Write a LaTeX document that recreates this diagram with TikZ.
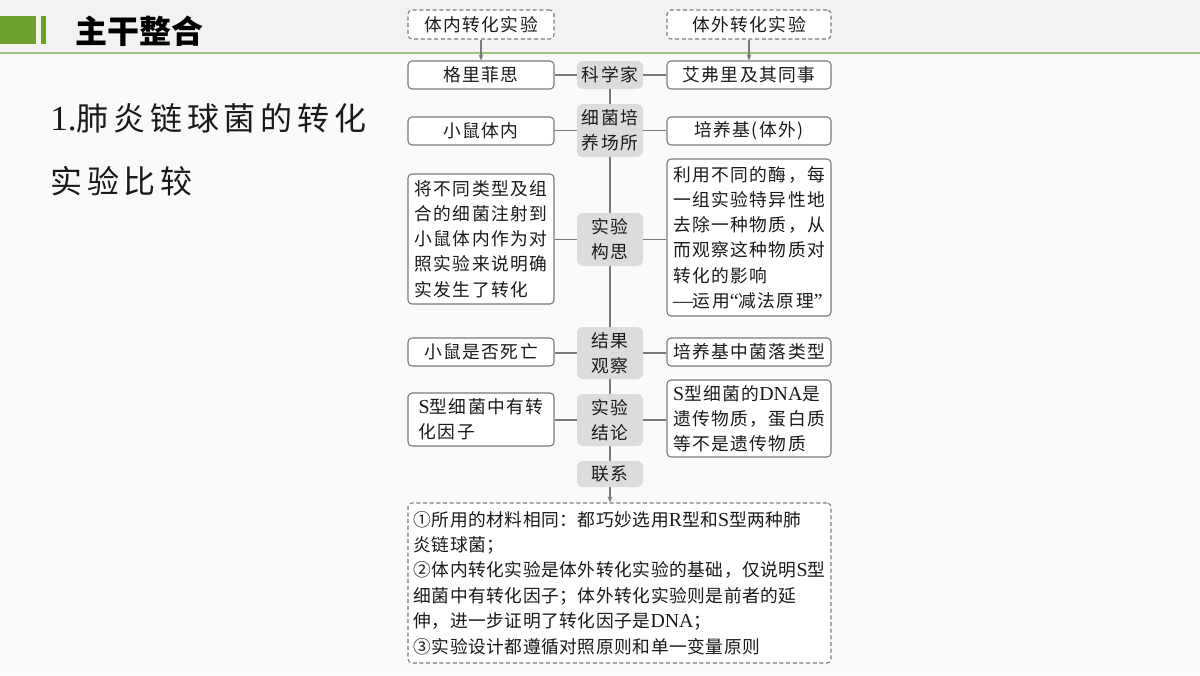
\documentclass[tikz,border=0pt]{standalone}
\usepackage{fontspec}
\usetikzlibrary{arrows.meta}
\setmainfont{Noto Sans CJK SC}
\newfontfamily\boxfont[LetterSpace=8]{Noto Sans CJK SC}
\newfontfamily\botfont[LetterSpace=3]{Noto Sans CJK SC}
\newfontfamily\latfont[Scale=1.12]{Liberation Serif}
\newfontfamily\bigfont[LetterSpace=15]{Noto Sans CJK SC}
\newfontfamily\bigser[Scale=1.1]{Liberation Serif}
\newcommand\lat[1]{{\latfont #1}}
\definecolor{hdrbg}{HTML}{F2F2F2}
\definecolor{bodybg}{HTML}{FAFAFA}
\definecolor{grn}{HTML}{6FA02E}
\definecolor{grnline}{HTML}{9DC27A}
\definecolor{edgec}{HTML}{7A7A7A}
\definecolor{cfill}{HTML}{DCDCDC}
\definecolor{ink}{HTML}{1A1A1A}
\tikzset{
  wh/.style 2 args={minimum width=#1*0.75pt, minimum height=#2*0.75pt},
  txt/.style={text=ink, font=\boxfont\fontsize{13.3}{18.9}\selectfont, inner xsep=1.5pt, inner ysep=2pt, align=left},
  box/.style={txt, draw=edgec, line width=0.8pt, rounded corners=3pt, fill=white},
  dbox/.style={box, dash pattern=on 3pt off 2pt},
  cbox/.style={txt, align=center, fill=cfill, rounded corners=4pt},
  conn/.style={draw=edgec, line width=0.8pt},
  arr/.style={conn, -{Stealth[length=4.5pt,width=3.5pt]}}
}
\begin{document}
\begin{tikzpicture}[x=0.75pt,y=-0.75pt]
\useasboundingbox (0,0) rectangle (1200,675);
\fill[bodybg] (0,0) rectangle (1200,675);
\fill[hdrbg] (0,0) rectangle (1200,53);
\draw[grnline, line width=1.2pt] (0,53) -- (1200,53);
\fill[grn] (0,16) rectangle (36,44);
\fill[grn] (41,16) rectangle (46,44);
\node[anchor=west, inner sep=0, text=black, font=\bfseries\fontsize{24}{24}\selectfont] (title) at (75,31.5) {主干整合};

\node[anchor=west, inner sep=0, text=ink, font=\bigfont\fontsize{24}{24}\selectfont] (h1) at (50,118.5) {{\bigser 1.}肺炎链球菌的转化};
\node[anchor=west, inner sep=0, text=ink, font=\bigfont\fontsize{24}{24}\selectfont] (h2) at (50,181) {实验比较};

% top dashed boxes
\node[dbox, wh={146}{29}, align=center] (tl) at (481,24.5) {体内转化实验};
\node[dbox, wh={164}{29}, align=center] (tr) at (749,24.5) {体外转化实验};

% left column
\node[box, wh={146}{28}, align=center] (L1) at (481,75) {格里菲思};
\node[box, wh={146}{28}, align=center] (L2) at (481,131) {小鼠体内};
\node[box, wh={146}{130}] (L3) at (481,239) {将不同类型及组\\合的细菌注射到\\小鼠体内作为对\\照实验来说明确\\实发生了转化};
\node[box, wh={146}{28}, align=center] (L4) at (481,352) {小鼠是否死亡};
\node[box, wh={146}{53}] (L5) at (481,419.5) {\lat{S}型细菌中有转\\化因子};

% right column
\node[box, wh={164}{28}, align=center] (R1) at (749,75) {艾弗里及其同事};
\node[box, wh={164}{28}, align=center] (R2) at (749,131) {培养基(体外)};
\node[box, wh={164}{157}] (R3) at (749,237.5) {利用不同的酶，每\\一组实验特异性地\\去除一种物质，从\\而观察这种物质对\\转化的影响\\\lat{—}运用\lat{“}减法原理\lat{”}};
\node[box, wh={164}{28}, align=center] (R4) at (749,352) {培养基中菌落类型};
\node[box, wh={164}{77}] (R5) at (749,418.5) {\lat{S}型细菌的\lat{DNA}是\\遗传物质，蛋白质\\等不是遗传物质};

% center column
\node[cbox, wh={66}{28}] (C1) at (610,75) {科学家};
\node[cbox, wh={66}{53}] (C2) at (610,130.5) {细菌培\\养场所};
\node[cbox, wh={66}{53}] (C3) at (610,239.5) {实验\\构思};
\node[cbox, wh={66}{52}] (C4) at (610,353) {结果\\观察};
\node[cbox, wh={66}{52}] (C5) at (610,420) {实验\\结论};
\node[cbox, wh={66}{26}] (C6) at (610,474) {联系};

% bottom box
\node[dbox, wh={423}{160}, font=\botfont\fontsize{13.3}{19.1}\selectfont] (bot) at (619.5,583) {①所用的材料相同：都巧妙选用\lat{R}型和\lat{S}型两种肺\\炎链球菌；\\②体内转化实验是体外转化实验的基础，仅说明\lat{S}型\\细菌中有转化因子；体外转化实验则是前者的延\\伸，进一步证明了转化因子是\lat{DNA}；\\③实验设计都遵循对照原则和单一变量原则};

% arrows from top
\draw[arr] (tl.south) -- (L1.north);
\draw[arr] (tr.south) -- (R1.north);

% vertical spine
\draw[conn] (C1.south) -- (C2.north);
\draw[conn] (C2.south) -- (C3.north);
\draw[conn] (C3.south) -- (C4.north);
\draw[conn] (C4.south) -- (C5.north);
\draw[conn] (C5.south) -- (C6.north);
\draw[arr] (C6.south) -- (C6.south |- bot.north);

% horizontal connectors
\foreach \i in {1,...,5}{
  \draw[conn] (C\i.west) -- (C\i.west -| L\i.east);
  \draw[conn] (C\i.east) -- (C\i.east -| R\i.west);
}
\end{tikzpicture}
\end{document}
